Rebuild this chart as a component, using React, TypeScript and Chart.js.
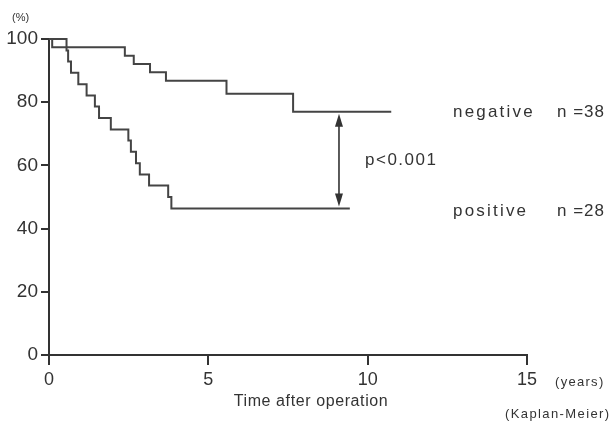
import React, { useEffect, useRef } from "react";
import { Chart, registerables } from "chart.js";

Chart.register(...registerables);

// Kaplan-Meier survival (%) – times in years
const negTimes = [0, 0.1, 2.38, 2.66, 3.17, 3.67, 5.57, 7.66, 10.74];
const negSurv = [100, 97.4, 94.7, 92.1, 89.5, 86.8, 82.7, 77.0, 77.0];

const posTimes = [0, 0.55, 0.6, 0.69, 0.92, 1.18, 1.44, 1.57, 1.94, 2.49, 2.57, 2.73, 2.85, 3.14, 3.74, 3.84, 9.44];
const posSurv = [100, 96.4, 92.9, 89.3, 85.7, 82.1, 78.6, 75.0, 71.4, 67.9, 64.3, 60.7, 57.1, 53.6, 50.0, 46.4, 46.4];

const xTicks = [0, 5, 10, 15];
const yTicks = [0, 20, 40, 60, 80, 100];

const groupLabels = ["negative", "positive"];
const groupN = ["n =38", "n =28"];
const pLabel = "p<0.001";
const arrowYear = 9.1;

const INK = "#333333";
const FONT = "'Liberation Sans', Arial, sans-serif";

const annotations = {
  id: "kmAnnotations",
  afterDraw(chart: any) {
    const ctx = chart.ctx as CanvasRenderingContext2D;
    const xs = chart.scales.x;
    const ys = chart.scales.y;
    ctx.save();
    ctx.fillStyle = INK;
    ctx.strokeStyle = INK;

    // arrow between final levels
    const ax = xs.getPixelForValue(arrowYear);
    const yTop = ys.getPixelForValue(negSurv[negSurv.length - 1]) + 2;
    const yBot = ys.getPixelForValue(posSurv[posSurv.length - 1]) - 2;
    ctx.lineWidth = 1.6;
    ctx.beginPath();
    ctx.moveTo(ax, yTop + 10);
    ctx.lineTo(ax, yBot - 10);
    ctx.stroke();
    ctx.beginPath();
    ctx.moveTo(ax, yTop);
    ctx.lineTo(ax - 4, yTop + 13);
    ctx.lineTo(ax + 4, yTop + 13);
    ctx.closePath();
    ctx.fill();
    ctx.beginPath();
    ctx.moveTo(ax, yBot);
    ctx.lineTo(ax - 4, yBot - 13);
    ctx.lineTo(ax + 4, yBot - 13);
    ctx.closePath();
    ctx.fill();

    const setLS = (v: string) => {
      (ctx as any).letterSpacing = v;
    };

    const yNeg = ys.getPixelForValue(negSurv[negSurv.length - 1]) + 1;
    const yPos = ys.getPixelForValue(posSurv[posSurv.length - 1]) + 3;

    ctx.textBaseline = "middle";
    ctx.textAlign = "left";
    ctx.font = `17px ${FONT}`;
    setLS("1.5px");
    ctx.fillText(pLabel, 365, 160);

    setLS("2.2px");
    ctx.fillText(groupLabels[0], 453, yNeg);
    ctx.fillText(groupLabels[1], 453, yPos);
    setLS("1px");
    ctx.fillText(groupN[0], 557, yNeg);
    ctx.fillText(groupN[1], 557, yPos);

    // axis titles
    ctx.font = `16px ${FONT}`;
    setLS("0.6px");
    ctx.textAlign = "center";
    ctx.fillText("Time after operation", 311, 402);

    ctx.font = `13px ${FONT}`;
    setLS("1.3px");
    ctx.textAlign = "left";
    ctx.fillText("(years)", 555, 382);
    setLS("1.4px");
    ctx.fillText("(Kaplan-Meier)", 505, 414);
    setLS("0px");
    ctx.font = `11px ${FONT}`;
    ctx.fillText("(%)", 12, 18);

    ctx.restore();
  },
};

export default function App() {
  const ref = useRef<HTMLCanvasElement | null>(null);

  useEffect(() => {
    if (!ref.current) return;
    const mk = (t: number[], s: number[]) => t.map((x, i) => ({ x, y: s[i] }));
    const chart = new Chart(ref.current, {
      type: "line",
      data: {
        datasets: [
          {
            label: "negative",
            data: mk(negTimes, negSurv),
            stepped: true,
            borderColor: "#444444",
            borderWidth: 2,
            pointRadius: 0,
            fill: false,
            clip: false as any,
          },
          {
            label: "positive",
            data: mk(posTimes, posSurv),
            stepped: true,
            borderColor: "#444444",
            borderWidth: 2,
            pointRadius: 0,
            fill: false,
            clip: false as any,
          },
        ],
      },
      options: {
        responsive: false,
        animation: false,
        devicePixelRatio: 1,
        layout: { padding: { top: 39, right: 87, left: 0, bottom: 0 } },
        plugins: { legend: { display: false }, tooltip: { enabled: false } },
        scales: {
          x: {
            type: "linear",
            min: 0,
            max: 15,
            afterFit(scale: any) {
              scale.height = 69;
            },
            afterBuildTicks(scale: any) {
              scale.ticks = xTicks.map((v) => ({ value: v }));
            },
            border: { display: true, color: INK, width: 2 },
            grid: { drawOnChartArea: false, drawTicks: true, tickLength: 10, color: INK, lineWidth: 2 },
            ticks: {
              color: INK,
              padding: 4,
              maxRotation: 0,
              font: { family: FONT, size: 18 },
            },
          },
          y: {
            type: "linear",
            min: 0,
            max: 100,
            afterFit(scale: any) {
              scale.width = 49;
            },
            afterBuildTicks(scale: any) {
              scale.ticks = yTicks.map((v) => ({ value: v }));
            },
            border: { display: true, color: INK, width: 2 },
            grid: { drawOnChartArea: false, drawTicks: true, tickLength: 8, color: INK, lineWidth: 2 },
            ticks: {
              color: INK,
              padding: 3,
              font: { family: FONT, size: 19 },
            },
          },
        },
      },
      plugins: [annotations],
    });
    return () => chart.destroy();
  }, []);

  return (
    <div style={{ position: "absolute", left: 0, top: 0, width: 614, height: 424, background: "#fff" }}>
      <canvas ref={ref} width={614} height={424} />
    </div>
  );
}
